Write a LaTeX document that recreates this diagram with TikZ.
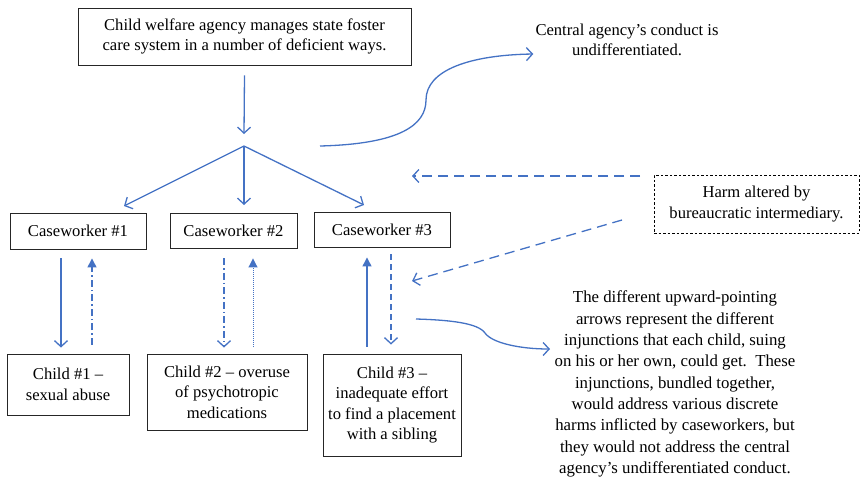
\documentclass[tikz,border=0pt]{standalone}
\usepackage{fontspec}
\setmainfont{Liberation Serif}
\usetikzlibrary{arrows.meta,calc}
\definecolor{arrowblue}{HTML}{4472C4}
\tikzset{
  box/.style={draw=black!85, line width=0.9pt, align=center, font=\fontsize{16.6}{20.5}\selectfont, inner sep=0pt},
  plain/.style={align=center, font=\fontsize{16.6}{20.5}\selectfont, inner sep=0pt},
  conn/.style={draw=arrowblue, line width=1.3pt},
  openhead/.style={-{Straight Barb[length=6pt,width=13pt,line width=1.3pt]}},
  fillhead/.style={-{Triangle[length=9pt,width=9pt]}},
  dashdot/.style={dash pattern=on 7pt off 3pt on 1.5pt off 3pt},
  longdash/.style={dash pattern=on 10pt off 6pt},
  shortdash/.style={dash pattern=on 6pt off 4pt},
}
\begin{document}
\begin{tikzpicture}[x=1pt,y=-1pt]
\useasboundingbox (0,0) rectangle (860,480);
% boxes
\node[box, minimum width=333pt, minimum height=57pt] (top) at (244.5,36.5) {Child welfare agency manages state foster\\care system in a number of deficient ways.};
\node[plain] (central) at (627,40) {Central agency’s conduct is\\undifferentiated.};
\node[box, draw=black, line width=0.8pt, dash pattern=on 2.5pt off 2pt, minimum width=205pt, minimum height=58pt] (harm) at (756.5,204) {Harm altered by\\bureaucratic intermediary.};
\node[box, minimum width=136pt, minimum height=36pt] (cw1) at (78,231) {Caseworker \#1};
\node[box, minimum width=127pt, minimum height=35pt] (cw2) at (233.5,230.5) {Caseworker \#2};
\node[box, minimum width=136pt, minimum height=35pt] (cw3) at (382,229.5) {Caseworker \#3};
\node[box, minimum width=122pt, minimum height=61pt] (ch1) at (68,384.5) {Child \#1 –\\sexual abuse};
\node[box, minimum width=160pt, minimum height=76pt] (ch2) at (227,392) {Child \#2 – overuse\\of psychotropic\\medications};
\node[box, minimum width=138pt, minimum height=102pt] (ch3) at (392,405) {Child \#3 –\\inadequate effort\\to find a placement\\with a sibling};
\node[plain, font=\fontsize{16.8}{21.3}\selectfont] (note) at (675,384) {The different upward-pointing\\arrows represent the different\\injunctions that each child, suing\\on his or her own, could get.\ \ These\\injunctions, bundled together,\\would address various discrete\\harms inflicted by caseworkers, but\\they would not address the central\\agency’s undifferentiated conduct.};
% coordinates
\coordinate (split) at (244,146);
\coordinate (curvestart) at (320,146);
\coordinate (harmA) at (640,176);
\coordinate (harmAend) at (412,176);
\coordinate (harmB) at (622,220);
\coordinate (harmBend) at (412,281);
\coordinate (lowstart) at (416,319);
\coordinate (x1) at (61,0);
\coordinate (x2) at (92,0);
\coordinate (x3) at (224,0);
\coordinate (x4) at (253,0);
\coordinate (x5) at (367,0);
\coordinate (x6) at (391,0);
% top arrow and split
\draw[conn, openhead] ([yshift=-10]top.south) -- ([yshift=12]split);
\draw[conn, openhead] (split) -- (124,206);
\draw[conn, openhead] (split) -- (244,205);
\draw[conn, openhead] (split) -- (364,205);
% curve to central
\draw[conn, openhead] (curvestart) .. controls (400,144) and (426,125) .. (426,100) .. controls (426,70) and (470,55) .. ([xshift=-2]central.south west |- 0,54) ;
% harm arrows
\draw[conn, longdash, openhead] (harmA) -- (harmAend);
\draw[conn, longdash, openhead] (harmB) -- (harmBend);
% caseworker 1
\draw[conn, openhead] ([yshift=-9]cw1.south -| x1) -- ([yshift=6]ch1.north -| x1);
\draw[conn, dashdot, fillhead] ([yshift=9]ch1.north -| x2) -- ([yshift=-9]cw1.south -| x2);
% caseworker 2
\draw[conn, dashdot, openhead] ([yshift=-10]cw2.south -| x3) -- ([yshift=6]ch2.north -| x3);
\draw[conn, line width=1pt, dash pattern=on 1pt off 1pt, fillhead] ([yshift=7]ch2.north -| x4) -- ([yshift=-10]cw2.south -| x4);
% caseworker 3
\draw[conn, fillhead] ([yshift=7]ch3.north -| x5) -- ([yshift=-10]cw3.south -| x5);
\draw[conn, shortdash, openhead] ([yshift=-7]cw3.south -| x6) -- ([yshift=9]ch3.north -| x6);
% curve to note
\draw[conn, openhead] (lowstart) .. controls (450,320) and (478,323) .. (485,333) .. controls (492,343) and (520,349) .. (550,349);
\end{tikzpicture}
\end{document}
